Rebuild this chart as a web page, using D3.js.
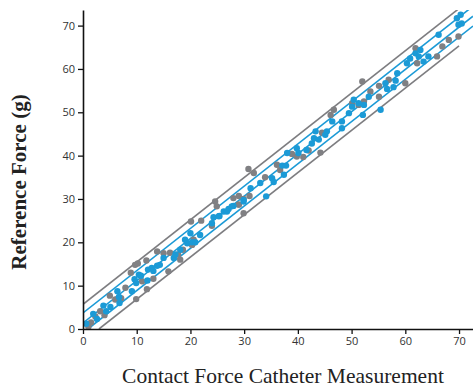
<!DOCTYPE html>
<html>
<head>
<meta charset="utf-8">
<script src="https://cdn.jsdelivr.net/npm/d3@7"></script>
<style>
  body { margin: 0; background: #fff; }
  .tick text { font-family: "Open Sans", sans-serif; font-size: 11px; fill: #333; }
</style>
</head>
<body>
<div id="chart"></div>
<script>
// gray series (x, y)
const grayX = [1.0, 1.5, 2.3, 3.2, 4.0, 5.0, 6.0, 7.1, 7.9, 8.9, 9.7, 10.2, 9.9, 11.8, 11.0, 13.1, 13.8, 11.9,
  15.9, 15.0, 16.2, 18.1, 17.7, 18.6, 20.3, 20.6, 20.1, 22.0, 24.0, 24.6, 24.9, 29.0, 29.9, 29.9,
  28.0, 29.0, 29.0, 31.0, 30.8, 31.8, 33.9, 36.1, 36.7, 38.9, 39.8, 41.0, 42.0, 44.2, 44.5,
  46.1, 46.7, 50.1, 51.3, 52.3, 52.0, 53.5, 55.1, 55.1, 56.9, 60.0, 61.9, 62.2, 65.9, 66.9, 68.1, 69.9];
const grayY = [0.5, 1.5, 2.9, 4.1, 3.2, 7.7, 6.8, 7.1, 9.5, 13.0, 14.8, 15.1, 6.9, 15.8, 11.0, 11.6, 17.9, 9.2,
  13.3, 17.5, 17.6, 16.0, 17.2, 18.3, 19.4, 20.6, 24.8, 25.0, 23.8, 29.4, 28.3, 28.7, 26.7, 30.0,
  30.2, 30.7, 28.7, 30.7, 36.9, 36.0, 35.0, 37.9, 36.7, 40.4, 39.8, 39.7, 41.2, 40.7, 45.3,
  49.4, 50.6, 52.1, 51.7, 52.5, 57.1, 54.8, 53.6, 56.1, 57.5, 56.7, 64.8, 61.3, 62.9, 65.2, 66.7, 67.5];

// blue series (x, y)
const blueX = [0.6, 1.9, 2.6, 3.8, 4.3, 5.1, 6.4, 6.8, 6.7, 9.1, 9.6, 9.9, 10.4, 10.8, 12.1, 12.0, 12.8, 13.1, 13.8, 14.3,
  15.0, 16.9, 17.2, 18.1, 19.0, 19.4, 20.0, 20.3, 20.9, 21.8, 24.0, 24.3, 25.4, 26.2, 27.1, 28.0, 29.9,
  25.3, 26.8, 27.7, 29.9, 31.2, 33.0, 34.1, 35.2, 35.5, 37.1, 37.8, 37.4, 38.0, 39.8, 40.1, 41.6, 42.6, 43.0, 43.3, 43.9,
  45.1, 45.4, 46.4, 48.2, 48.2, 49.5, 50.4, 50.1, 51.3, 52.3, 52.1, 53.2, 55.4, 56.3, 56.6, 57.8, 58.2, 58.5,
  60.3, 60.9, 61.9, 62.8, 62.5, 63.4, 64.3, 66.2, 69.6, 70.3, 69.9, 70.5];
const blueY = [1.2, 3.5, 2.3, 5.4, 4.1, 5.1, 8.7, 6.0, 7.4, 8.7, 11.5, 10.6, 12.5, 12.3, 13.7, 11.2, 14.1, 13.4, 14.6, 14.8,
  16.4, 16.4, 17.2, 18.3, 20.6, 19.8, 22.1, 20.0, 20.0, 21.7, 24.4, 25.8, 26.1, 27.1, 27.7, 28.4, 29.4,
  26.0, 27.1, 28.3, 29.8, 32.5, 33.7, 30.6, 34.8, 33.9, 37.7, 37.7, 35.6, 40.6, 41.7, 40.6, 41.3, 42.8, 44.0, 45.6, 43.7,
  44.8, 45.6, 47.9, 47.9, 46.3, 49.8, 52.9, 51.3, 52.1, 51.7, 49.4, 53.6, 50.6, 56.7, 55.4, 55.8, 57.3, 59.0,
  61.3, 62.4, 63.6, 64.4, 62.9, 61.7, 62.9, 67.9, 71.7, 72.5, 70.2, 70.5];

// fitted line and limits
const fitSlope = 0.975;
const fitIntercept = 1.4;
const blueOffsets = [-2.3, 0, 2.3];
const grayOffsets = [-4.3, 4.3];

const xTicks = [0, 10, 20, 30, 40, 50, 60, 70];
const yTicks = [0, 10, 20, 30, 40, 50, 60, 70];

const width = 473, height = 387;
const margin = { top: 10, right: 0, bottom: 58, left: 83 };

const svg = d3.select('#chart').append('svg')
  .attr('width', width)
  .attr('height', height);

const x = d3.scaleLinear().domain([0, 72.6]).range([margin.left, width - margin.right]);
const y = d3.scaleLinear().domain([0, 73.6]).range([height - margin.bottom, margin.top]);

svg.append('clipPath').attr('id', 'plot')
  .append('rect')
  .attr('x', margin.left).attr('y', margin.top)
  .attr('width', width - margin.left - margin.right)
  .attr('height', height - margin.top - margin.bottom);

const plot = svg.append('g').attr('clip-path', 'url(#plot)');

// limit lines
function drawLine(offset, xMax, color) {
  const x0 = Math.max(0, -(fitIntercept + offset) / fitSlope);
  const pts = [x0, xMax].map(v => [v, fitSlope * v + fitIntercept + offset]);
  plot.append('path')
    .datum(pts)
    .attr('fill', 'none')
    .attr('stroke', color)
    .attr('stroke-width', 1.6)
    .attr('d', d3.line().x(d => x(d[0])).y(d => y(d[1])));
}
grayOffsets.forEach(o => drawLine(o, 70, '#7d7d80'));
blueOffsets.forEach(o => drawLine(o, 72.6, '#1b9ad6'));

// points
plot.selectAll('.gray')
  .data(grayX.map((v, i) => [v, grayY[i]]))
  .enter().append('circle')
  .attr('class', 'gray')
  .attr('cx', d => x(d[0]))
  .attr('cy', d => y(d[1]))
  .attr('r', 3.2)
  .attr('fill', '#808083');

plot.selectAll('.blue')
  .data(blueX.map((v, i) => [v, blueY[i]]))
  .enter().append('circle')
  .attr('class', 'blue')
  .attr('cx', d => x(d[0]))
  .attr('cy', d => y(d[1]))
  .attr('r', 3.2)
  .attr('fill', '#1b9ad6');

// axes
const xAxis = svg.append('g')
  .attr('transform', `translate(0,${height - margin.bottom})`)
  .call(d3.axisBottom(x).tickValues(xTicks).tickSize(5).tickPadding(3).tickSizeOuter(0));
const yAxis = svg.append('g')
  .attr('transform', `translate(${margin.left},0)`)
  .call(d3.axisLeft(y).tickValues(yTicks).tickSize(5).tickPadding(3).tickSizeOuter(0));
[xAxis, yAxis].forEach(a => {
  a.select('.domain').attr('stroke', '#111').attr('stroke-width', 1.6);
  a.selectAll('.tick line').attr('stroke', '#111').attr('stroke-width', 1.3);
});

// titles
svg.append('text')
  .attr('x', 283)
  .attr('y', 383)
  .attr('text-anchor', 'middle')
  .attr('font-family', '"Liberation Serif", serif')
  .attr('font-size', 21.5)
  .attr('fill', '#222')
  .text('Contact Force Catheter Measurement');

svg.append('text')
  .attr('transform', 'translate(26,182) rotate(-90)')
  .attr('text-anchor', 'middle')
  .attr('font-family', '"Liberation Serif", serif')
  .attr('font-weight', 'bold')
  .attr('font-size', 21)
  .attr('fill', '#222')
  .text('Reference Force (g)');
</script>
</body>
</html>
